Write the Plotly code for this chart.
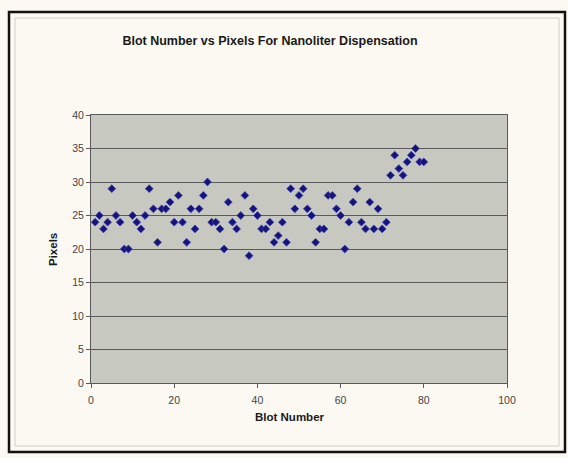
import plotly.graph_objects as go

# ---- data ----
blot_number = [1, 2, 3, 4, 5, 6, 7, 8, 9, 10,
               11, 12, 13, 14, 15, 16, 17, 18, 19, 20,
               21, 22, 23, 24, 25, 26, 27, 28, 29, 30,
               31, 32, 33, 34, 35, 36, 37, 38, 39, 40,
               41, 42, 43, 44, 45, 46, 47, 48, 49, 50,
               51, 52, 53, 54, 55, 56, 57, 58, 59, 60,
               61, 62, 63, 64, 65, 66, 67, 68, 69, 70,
               71, 72, 73, 74, 75, 76, 77, 78, 79, 80]
pixels = [24, 25, 23, 24, 29, 25, 24, 20, 20, 25,
          24, 23, 25, 29, 26, 21, 26, 26, 27, 24,
          28, 24, 21, 26, 23, 26, 28, 30, 24, 24,
          23, 20, 27, 24, 23, 25, 28, 19, 26, 25,
          23, 23, 24, 21, 22, 24, 21, 29, 26, 28,
          29, 26, 25, 21, 23, 23, 28, 28, 26, 25,
          20, 24, 27, 29, 24, 23, 27, 23, 26, 23,
          24, 31, 34, 32, 31, 33, 34, 35, 33, 33]
x_ticks = [0, 20, 40, 60, 80, 100]
y_ticks = [0, 5, 10, 15, 20, 25, 30, 35, 40]

title_text = "Blot Number vs Pixels For Nanoliter Dispensation"
x_title = "Blot Number"
y_title = "Pixels"

# ---- layout geometry (pixels) ----
W, H = 568, 458
ML, MR, MT, MB = 91, 61, 115, 75
PW, PH = W - ML - MR, H - MT - MB


def px_x(p):
    return (p - ML) / PW


def px_y(p):
    return (H - MB - p) / PH


FONT = "Liberation Sans, Arial, sans-serif"

fig = go.Figure()
fig.add_trace(go.Scatter(
    x=blot_number, y=pixels, mode="markers",
    marker=dict(symbol="diamond", size=6, color="#14147a",
                line=dict(width=0.8, color="#3c3cb4")),
    showlegend=False, hoverinfo="x+y",
))

fig.update_layout(
    width=W, height=H,
    margin=dict(l=ML, r=MR, t=MT, b=MB, pad=0),
    paper_bgcolor="#fbf9f1",
    plot_bgcolor="#c7c8c0",
    font=dict(family=FONT, size=10, color="#3a3a3a"),
    title=dict(text=title_text, x=270 / W, xanchor="center",
               y=1 - 41 / H, yanchor="middle", yref="container",
               font=dict(family=FONT, size=12.5, color="#1a1a1a", weight="bold")),
    xaxis=dict(
        range=[0, 100], tickmode="array", tickvals=x_ticks,
        showgrid=False, zeroline=False,
        showline=True, linecolor="#5a5a5a", linewidth=1, mirror=True,
        ticks="outside", ticklen=4, tickcolor="#5a5a5a",
        ticklabelstandoff=3,
        tickfont=dict(size=10.5, color="#444444"),
    ),
    yaxis=dict(
        range=[0, 40], tickmode="array", tickvals=y_ticks,
        showgrid=True, gridcolor="#5a5a5a", gridwidth=1.2,
        zeroline=False,
        showline=True, linecolor="#5a5a5a", linewidth=1, mirror=True,
        ticks="outside", ticklen=4, tickcolor="#5a5a5a",
        tickfont=dict(size=10.5, color="#444444"),
    ),
    annotations=[
        dict(text=x_title, xref="paper", yref="paper",
             x=px_x(290), y=px_y(417), xanchor="center", yanchor="middle",
             showarrow=False,
             font=dict(family=FONT, size=11.5, color="#1a1a1a", weight="bold")),
        dict(text=y_title, xref="paper", yref="paper",
             x=px_x(53), y=px_y(250), xanchor="center", yanchor="middle",
             textangle=-90, showarrow=False,
             font=dict(family=FONT, size=11.5, color="#1a1a1a", weight="bold")),
    ],
    shapes=[
        dict(type="rect", xref="paper", yref="paper",
             x0=px_x(9), x1=px_x(565), y0=px_y(452), y1=px_y(12),
             line=dict(color="#111111", width=2.5), fillcolor="rgba(0,0,0,0)",
             layer="below"),
        dict(type="rect", xref="paper", yref="paper",
             x0=px_x(15), x1=px_x(559), y0=px_y(446), y1=px_y(18),
             line=dict(color="#cfcfc8", width=1), fillcolor="rgba(0,0,0,0)",
             layer="below"),
    ],
)

fig.write_html("out.html")
